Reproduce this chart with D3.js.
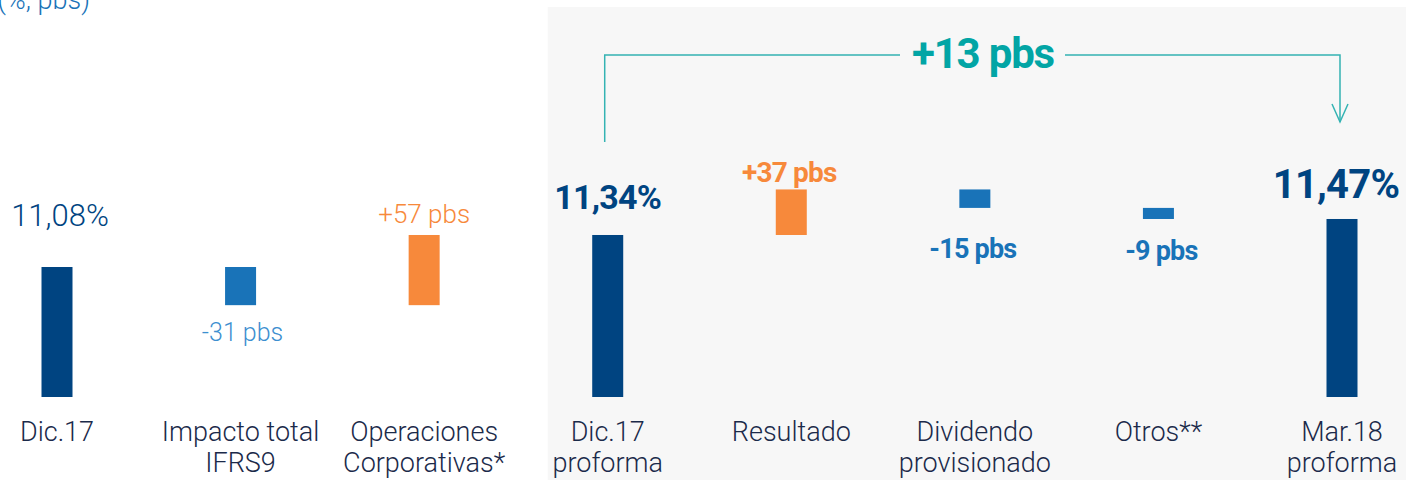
<!DOCTYPE html>
<html><head><meta charset="utf-8">
<script src="https://cdn.jsdelivr.net/npm/d3@7"></script>
<style>
html,body{margin:0;padding:0;background:#fff;}
svg{display:block;}
</style></head>
<body>
<svg id="chart" width="1406" height="480"></svg>
<script>
// ---- data ----
const categories = ["Dic.17", "Impacto total IFRS9", "Operaciones Corporativas*", "Dic.17 proforma", "Resultado", "Dividendo provisionado", "Otros**", "Mar.18 proforma"];
const labelLines = [["Dic.17"], ["Impacto total", "IFRS9"], ["Operaciones", "Corporativas*"], ["Dic.17", "proforma"], ["Resultado"], ["Dividendo", "provisionado"], ["Otros**"], ["Mar.18", "proforma"]];
const kinds = ["total", "delta", "delta", "total", "delta", "delta", "delta", "total"];
const values = [11.08, -0.31, 0.57, 11.34, 0.37, -0.15, -0.09, 11.47]; // % for totals, p.p. for deltas
const valueLabels = ["11,08%", "-31 pbs", "+57 pbs", "11,34%", "+37 pbs", "-15 pbs", "-9 pbs", "11,47%"];
const bracketLabel = "+13 pbs";
const titleText = "(%, pbs)";

// ---- colors ----
const darkBlue = "#004481", midBlue = "#1973b8", orange = "#f7893b", teal = "#02a5a5";

const svg = d3.select("#chart");
const W = 1406, H = 480;

const x = d3.scalePoint().domain(categories).range([57, 1342]);
const y = d3.scaleLinear().domain([10.024, 11.08]).range([397, 267]);
const bw = 31;

// compute waterfall segments
let running = 0;
const segs = categories.map((c, i) => {
  let y0, y1;
  if (kinds[i] === "total") { y0 = y.domain()[0]; y1 = values[i]; running = values[i]; }
  else { y0 = running; y1 = running + values[i]; running = y1; }
  return {c, i, lo: Math.min(y0, y1), hi: Math.max(y0, y1), kind: kinds[i], v: values[i]};
});

// gray panel (right section)
svg.append("rect").attr("x", x(categories[3]) - 60).attr("y", 7)
  .attr("width", W - (x(categories[3]) - 60)).attr("height", H - 7).attr("fill", "#f7f7f7");

// title fragment (cut by the top edge, as in the reference)
svg.append("text").attr("x", 90).attr("y", 9).attr("text-anchor", "end")
  .attr("font-family", "Roboto").attr("font-weight", 300).attr("font-size", 27)
  .attr("fill", midBlue).text(titleText);

const colorOf = s => s.kind === "total" ? darkBlue : (s.v > 0 ? orange : midBlue);

svg.selectAll("rect.bar").data(segs).join("rect").attr("class", "bar")
  .attr("x", d => x(d.c) - bw / 2).attr("width", bw)
  .attr("y", d => y(d.hi)).attr("height", d => y(d.lo) - y(d.hi))
  .attr("fill", colorOf);

// value labels
const bold = i => i >= 3;
const labelSize = [31, 25, 26, 34, 28, 27, 27, 40];
segs.forEach((s, i) => {
  const above = s.kind === "total" || s.v > 0;
  let ly;
  if (above) ly = y(s.hi) - (s.kind === "total" ? (i === 7 ? 21 : (i === 3 ? 26 : 41)) : (i === 4 ? 7 : 12));
  else ly = y(s.lo) + (i === 1 ? 36 : (i === 5 ? 50 : 41));
  let lx = x(s.c) + (i === 0 ? 3 : (i === 7 ? -6 : (i === 4 ? -2 : (i === 1 ? 2 : (i === 5 ? -2 : (i === 6 ? 3 : 0))))));
  let fill = s.kind === "total" ? darkBlue : (s.v > 0 ? orange : (bold(i) ? midBlue : "#3d8fd0"));
  svg.append("text").attr("x", lx).attr("y", ly).attr("text-anchor", "middle")
    .attr("font-family", "Roboto").attr("font-weight", bold(i) ? 700 : 300)
    .attr("font-size", labelSize[i]).attr("letter-spacing", bold(i) ? -0.8 : 0)
    .attr("fill", fill).text(valueLabels[i]);
});

// category labels
categories.forEach((c, i) => {
  const t = svg.append("text").attr("text-anchor", "middle")
    .attr("font-family", "Roboto").attr("font-weight", 300).attr("font-size", 27)
    .attr("fill", "#1b2a4a");
  labelLines[i].forEach((ln, k) => {
    t.append("tspan").attr("x", x(c)).attr("y", 441 + k * 31).text(ln);
  });
});

// bracket
const bx0 = x(categories[3]) - 3, bx1 = x(categories[7]) - 2, by = 55;
const g = svg.append("g").attr("stroke", "#34b3b3").attr("stroke-width", 1.5).attr("fill", "none");
g.append("path").attr("d", `M${bx0},142 V${by} H900`);
g.append("path").attr("d", `M1065,${by} H${bx1} V122`);
g.append("path").attr("d", `M${bx1 - 8},104 L${bx1},122 L${bx1 + 8},104`);
svg.append("text").attr("x", 983).attr("y", 68).attr("text-anchor", "middle")
  .attr("font-family", "Roboto").attr("font-weight", 700).attr("font-size", 42)
  .attr("letter-spacing", -1.2).attr("fill", teal).text(bracketLabel);
</script>
</body></html>
